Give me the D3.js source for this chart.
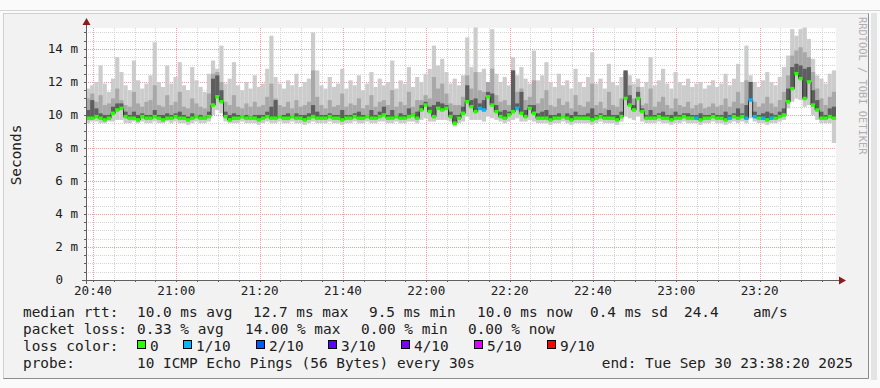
<!DOCTYPE html>
<html>
<head>
<meta charset="utf-8">
<script src="https://cdn.jsdelivr.net/npm/d3@7"></script>
<style>
  body { margin: 0; background: #fff; }
  text { font-family: "DejaVu Sans Mono", monospace; }
</style>
</head>
<body>
<div id="chart"></div>
<script>
// ---------------------------------------------------------
// DATA (one value per minute, 20:38:20 -> 23:38:20, ms)
// ---------------------------------------------------------

var medianRtt = [
  9.8, 9.8, 9.9, 9.8, 9.7, 9.8, 10.1, 10.3, 10.4, 9.9,
  9.8, 9.8, 9.7, 9.9, 9.8, 9.8, 9.9, 9.8, 9.7, 9.8,
  9.8, 9.9, 9.8, 9.8, 9.7, 9.8, 9.9, 9.8, 9.8, 9.9,
  10.6, 11.1, 10.8, 9.9, 9.7, 9.8, 9.8, 9.9, 9.8, 9.8,
  9.8, 9.7, 9.8, 9.9, 9.8, 9.8, 9.9, 9.8, 9.8, 9.9,
  9.8, 9.8, 9.7, 9.8, 9.9, 9.8, 9.8, 9.8, 9.9, 9.8,
  9.8, 9.7, 9.8, 9.8, 9.9, 9.8, 9.8, 9.9, 9.8, 9.8,
  9.9, 10.0, 9.8, 9.8, 9.9, 9.8, 9.8, 9.9, 10.0, 9.8,
  10.3, 10.6, 10.2, 9.9, 10.4, 10.3, 10.4, 9.9, 9.5, 9.8,
  10.1, 10.8, 10.5, 10.2, 10.4, 10.3, 11.1, 10.6, 10.2, 9.9,
  9.8, 10.0, 10.2, 10.4, 10.1, 9.9, 10.4, 10.1, 9.8, 9.8,
  9.8, 9.7, 9.8, 9.8, 9.9, 9.8, 9.7, 9.8, 9.8, 9.8,
  9.8, 9.7, 9.8, 9.9, 9.8, 9.8, 9.8, 9.7, 9.9, 11.0,
  10.6, 10.3, 11.0, 10.2, 9.8, 9.8, 9.8, 9.9, 9.8, 9.8,
  9.7, 9.8, 9.8, 9.9, 9.8, 9.8, 9.8, 9.7, 9.8, 9.8,
  9.9, 9.8, 9.8, 9.7, 9.8, 9.9, 9.8, 9.9, 9.8, 10.9,
  9.9, 9.8, 9.8, 9.7, 9.8, 9.8, 9.9, 10.0, 10.8, 11.6,
  12.5, 12.2, 11.0, 12.0, 10.6, 10.3, 9.8, 9.8, 9.9, 9.8
];

// highest ping of each round (light smoke)
var pingMax = [
  11.6, 11.8, 12.0, 13.0, 11.9, 11.4, 12.2, 13.5, 12.6, 11.8,
  11.5, 13.3, 12.1, 11.6, 11.9, 12.4, 14.4, 12.0, 11.7, 13.0,
  11.9, 12.3, 13.2, 11.8, 11.5, 12.9, 12.1, 11.7, 11.4, 12.5,
  13.3, 12.8, 14.2, 11.9, 12.2, 13.2, 11.8, 11.5, 12.0, 11.6,
  12.4, 11.7, 11.9, 12.8, 14.8, 12.3, 11.9, 11.6, 12.1, 11.8,
  12.5, 11.7, 12.0, 12.2, 15.0, 12.7, 11.8, 11.6, 12.3, 11.7,
  11.9, 12.8, 11.6, 12.1, 11.8, 12.4, 11.5, 11.9, 12.6, 11.7,
  12.2, 11.8, 12.0, 13.3, 11.6, 12.1, 11.9, 12.9, 11.7, 12.3,
  12.0, 12.5, 12.8, 14.2, 13.0, 13.4, 12.6, 11.9, 12.2, 11.8,
  12.4, 14.7, 12.9, 15.3, 12.6, 12.8, 11.9, 15.2, 12.5, 12.0,
  12.3, 11.8, 13.5, 12.4, 12.9, 12.2, 11.9, 13.9, 12.1, 12.4,
  13.2, 12.0, 11.7, 12.5, 11.8, 12.1, 11.6, 12.8, 12.0, 11.7,
  12.3, 13.8, 11.9, 12.2, 11.6, 13.1, 12.0, 11.8, 12.3, 12.7,
  12.4, 11.9, 12.2, 11.7, 12.0, 13.5, 11.8, 12.1, 12.8, 11.9,
  11.6, 12.6, 12.0, 11.8, 12.2, 11.7, 11.9, 12.0, 11.6, 11.8,
  12.1, 11.7, 11.9, 12.5, 11.8, 12.2, 13.1, 12.0, 14.2, 12.4,
  12.0, 11.7, 12.1, 12.6, 12.0, 11.8, 12.3, 12.9, 13.6, 15.2,
  14.8, 15.2, 15.3, 14.6, 13.4, 12.4, 12.2, 11.9, 12.5, 12.7
];

// second highest ping (mid smoke)
var pingHigh = [
  11.0, 11.3, 10.8, 11.2, 10.6, 10.7, 11.0, 11.6, 10.9, 10.6,
  10.5, 11.4, 10.7, 10.5, 10.8, 10.9, 11.8, 10.6, 10.5, 11.2,
  10.6, 10.8, 11.4, 10.5, 10.4, 11.0, 10.7, 10.5, 10.4, 11.3,
  12.5, 12.6, 12.0, 10.8, 10.6, 11.2, 10.5, 10.4, 10.7, 10.5,
  10.8, 10.5, 10.6, 11.1, 11.9, 11.0, 10.6, 10.5, 10.8, 10.4,
  10.9, 10.5, 10.6, 10.8, 12.7, 11.1, 10.6, 10.4, 10.9, 10.5,
  10.6, 11.3, 10.5, 10.7, 10.6, 11.0, 10.4, 10.6, 11.2, 10.5,
  10.8, 10.9, 10.6, 11.5, 10.5, 10.8, 10.6, 11.4, 10.5, 10.9,
  10.9, 11.2, 11.0, 12.3, 11.6, 11.9, 11.3, 10.7, 10.6, 10.6,
  11.1, 12.4, 11.6, 12.6, 11.5, 11.4, 12.0, 12.8, 11.2, 10.8,
  10.9, 10.6, 12.7, 11.4, 11.6, 10.9, 11.1, 12.1, 10.7, 11.0,
  11.5, 10.6, 10.5, 11.0, 10.6, 10.8, 10.4, 11.2, 10.6, 10.5,
  10.8, 11.9, 10.6, 10.8, 10.4, 11.4, 10.6, 10.5, 11.0, 12.6,
  11.8, 11.0, 11.7, 10.6, 10.7, 11.6, 10.5, 10.8, 11.1, 10.6,
  10.4, 11.0, 10.6, 10.5, 10.8, 10.4, 10.6, 10.7, 10.4, 10.5,
  10.7, 10.5, 10.6, 11.0, 10.5, 10.8, 11.4, 10.7, 12.1, 12.0,
  10.8, 10.5, 10.7, 11.1, 10.7, 10.5, 10.9, 11.4, 12.4, 13.6,
  13.9, 14.1, 13.8, 13.5, 12.6, 11.6, 11.0, 10.6, 11.1, 11.4
];

// inner pings (dark smoke)
var pingCore = [
  10.3, 10.9, 10.4, 10.1, 10.0, 10.0, 10.5, 10.7, 10.7, 10.2,
  10.0, 10.2, 10.0, 10.1, 10.0, 10.0, 10.3, 10.0, 10.0, 10.1,
  10.0, 10.1, 10.2, 10.0, 9.9, 10.1, 10.0, 10.0, 9.9, 10.2,
  12.2, 12.4, 11.5, 10.2, 10.0, 10.1, 10.0, 10.0, 10.0, 9.9,
  10.0, 10.0, 10.0, 10.2, 10.5, 10.9, 10.0, 10.0, 10.1, 10.0,
  10.1, 10.0, 10.0, 10.1, 10.6, 10.2, 10.0, 10.0, 10.1, 10.0,
  10.0, 10.3, 10.0, 10.0, 10.1, 10.2, 10.0, 10.0, 10.3, 10.0,
  10.2, 10.5, 10.0, 10.3, 10.0, 10.1, 10.0, 10.4, 10.1, 10.2,
  10.6, 10.8, 10.5, 10.6, 10.8, 10.7, 10.6, 10.2, 10.0, 10.0,
  10.5, 11.8, 10.9, 11.0, 10.7, 10.9, 11.4, 11.3, 10.6, 10.2,
  10.3, 10.2, 12.7, 10.7, 11.4, 10.3, 10.6, 10.6, 10.1, 10.2,
  10.3, 10.0, 10.0, 10.1, 10.0, 10.1, 10.0, 10.2, 10.0, 10.0,
  10.1, 10.4, 10.0, 10.1, 10.0, 10.3, 10.0, 10.0, 10.2, 12.7,
  11.2, 10.6, 11.4, 10.4, 10.0, 10.3, 10.0, 10.1, 10.2, 10.0,
  10.0, 10.2, 10.0, 10.1, 10.1, 10.0, 10.0, 10.1, 10.0, 10.0,
  10.1, 10.0, 10.0, 10.2, 10.0, 10.1, 10.4, 10.1, 10.6, 12.0,
  10.2, 10.0, 10.1, 10.2, 10.1, 10.0, 10.2, 10.4, 11.6, 12.9,
  13.1, 13.0, 12.8, 12.9, 11.5, 10.9, 10.2, 10.0, 10.4, 10.5
];

// lowest ping of each round
var pingMin = [
  9.5, 9.6, 9.6, 9.5, 9.5, 9.6, 9.6, 9.7, 9.7, 9.5,
  9.5, 9.6, 9.5, 9.6, 9.5, 9.5, 9.6, 9.5, 9.5, 9.6,
  9.5, 9.6, 9.5, 9.5, 9.4, 9.5, 9.6, 9.5, 9.5, 9.6,
  10.0, 10.3, 10.1, 9.6, 9.5, 9.5, 9.5, 9.6, 9.5, 9.5,
  9.5, 9.4, 9.5, 9.6, 9.5, 9.5, 9.6, 9.5, 9.5, 9.6,
  9.5, 9.5, 9.4, 9.5, 9.6, 9.5, 9.5, 9.5, 9.6, 9.5,
  9.5, 9.4, 9.5, 9.5, 9.6, 9.5, 9.5, 9.6, 9.5, 9.5,
  9.6, 9.6, 9.5, 9.5, 9.6, 9.5, 9.5, 9.6, 9.6, 9.5,
  9.7, 9.8, 9.6, 9.6, 9.7, 9.7, 9.7, 9.6, 9.3, 9.5,
  9.6, 9.9, 9.7, 9.7, 9.7, 9.6, 9.9, 9.8, 9.7, 9.6,
  9.5, 9.6, 9.7, 9.8, 9.6, 9.6, 9.7, 9.6, 9.5, 9.5,
  9.5, 9.4, 9.5, 9.5, 9.6, 9.5, 9.4, 9.5, 9.5, 9.5,
  9.5, 9.4, 9.5, 9.6, 9.5, 9.5, 9.5, 9.4, 9.6, 9.9,
  9.8, 9.7, 9.9, 9.6, 9.5, 9.5, 9.5, 9.6, 9.5, 9.5,
  9.4, 9.5, 9.5, 9.6, 9.5, 9.5, 9.5, 9.4, 9.5, 9.5,
  9.6, 9.5, 9.5, 9.4, 9.5, 9.6, 9.5, 9.6, 9.5, 9.8,
  9.6, 9.5, 9.5, 9.4, 9.5, 9.5, 9.6, 9.7, 10.4, 10.8,
  11.0, 10.9, 10.5, 10.6, 10.0, 9.7, 9.5, 9.5, 9.5, 8.3
];

// lost pings out of 10
var lossCount = [
  0,0,0,0,0,0,0,0,0,0, 0,0,0,0,0,0,0,0,0,0,
  0,0,0,0,0,0,0,0,0,0, 0,0,0,0,0,0,0,0,0,0,
  0,0,0,0,0,0,0,0,0,0, 0,0,0,0,0,0,0,0,0,0,
  0,0,0,0,0,0,0,0,0,0, 0,0,0,0,0,0,0,0,0,0,
  0,0,0,0,0,0,0,0,0,0, 0,0,0,0,1,1,0,0,0,0,
  0,0,0,1,0,0,0,0,0,0, 0,0,0,0,0,0,0,0,0,0,
  0,0,0,0,0,0,0,0,0,0, 0,0,0,0,0,0,0,0,0,0,
  0,0,0,0,0,0,1,0,0,0, 0,0,0,0,1,0,0,0,1,1,
  1,0,1,0,1,0,0,0,0,0
];

var yTicks = [0, 2, 4, 6, 8, 10, 12, 14];

var lossLevels = [0, 1, 2, 3, 4, 5, 9];
var lossLabels = ["0", "1/10", "2/10", "3/10", "4/10", "5/10", "9/10"];
var lossColors = ["#26ff00", "#00b8ff", "#0059ff", "#5e00ff", "#7e00ff", "#dd00ff", "#ff0000"];

var rttStats = ["10.0 ms avg", "12.7 ms max", "9.5 ms min", "10.0 ms now", "0.4 ms sd", "24.4", "am/s"];
var lossStats = ["0.33 % avg", "14.00 % max", "0.00 % min", "0.00 % now"];
var probeText = "10 ICMP Echo Pings (56 Bytes) every 30s";
var endText = "end: Tue Sep 30 23:38:20 2025";

var startTime = new Date(2025, 8, 30, 20, 38, 20);
var endTime = new Date(2025, 8, 30, 23, 38, 20);

// ---------------------------------------------------------
// SET UP
// ---------------------------------------------------------

var svgWidth = 880, svgHeight = 388;
var plot = { left: 86, right: 836, top: 28, bottom: 280 };

var svg = d3.select("#chart").append("svg")
  .attr("width", svgWidth)
  .attr("height", svgHeight);

// page line + rrd frame
svg.append("rect").attr("x", 0).attr("y", 0).attr("width", svgWidth).attr("height", svgHeight).attr("fill", "#fafafa");
svg.append("line").attr("x1", 0).attr("x2", svgWidth).attr("y1", 10.5).attr("y2", 10.5).attr("stroke", "#d4d4d4");
svg.append("rect").attr("x", 3.5).attr("y", 13.5).attr("width", 865).attr("height", 365)
  .attr("fill", "#f2f2f2").attr("stroke", "#cfcfcf");
svg.append("path").attr("d", "M868.5,13.5V378.5H3.5").attr("fill", "none").attr("stroke", "#8c8c8c");
svg.append("rect").attr("x", 871).attr("y", 13).attr("width", 6).attr("height", 367).attr("fill", "#e4e4e4");

svg.append("rect")
  .attr("x", plot.left).attr("y", plot.top)
  .attr("width", plot.right - plot.left).attr("height", plot.bottom - plot.top)
  .attr("fill", "#ffffff");

var x = d3.scaleTime().domain([startTime, endTime]).range([plot.left, plot.right]);
var y = d3.scaleLinear().domain([0, 15.27]).range([plot.bottom, plot.top]);

var times = medianRtt.map((d, i) => d3.timeMinute.offset(startTime, i));
var stepW = d => x(d3.timeMinute.offset(d, 1)) - x(d);

// ---------------------------------------------------------
// GRID
// ---------------------------------------------------------

var grid = svg.append("g").attr("stroke-dasharray", "1,1").attr("stroke-width", 1);

var minorX = x.ticks(d3.timeMinute.every(5)).filter(t => t.getMinutes() % 20 !== 0);
var majorX = x.ticks(d3.timeMinute.every(20));
var minorY = d3.range(0.5, 15.3, 0.5).filter(v => v % 2 !== 0);
var majorY = yTicks.filter(v => v > 0);

grid.selectAll(".minx").data(minorX).enter().append("line")
  .attr("x1", d => Math.round(x(d)) + 0.5).attr("x2", d => Math.round(x(d)) + 0.5)
  .attr("y1", plot.top).attr("y2", plot.bottom).attr("stroke", "#d4d4d4");
grid.selectAll(".miny").data(minorY).enter().append("line")
  .attr("x1", plot.left).attr("x2", plot.right)
  .attr("y1", d => Math.round(y(d)) + 0.5).attr("y2", d => Math.round(y(d)) + 0.5).attr("stroke", "#d4d4d4");
grid.selectAll(".majx").data(majorX).enter().append("line")
  .attr("x1", d => Math.round(x(d)) + 0.5).attr("x2", d => Math.round(x(d)) + 0.5)
  .attr("y1", plot.top).attr("y2", plot.bottom).attr("stroke", "#f0a0a0");
grid.selectAll(".majy").data(majorY).enter().append("line")
  .attr("x1", plot.left).attr("x2", plot.right)
  .attr("y1", d => Math.round(y(d)) + 0.5).attr("y2", d => Math.round(y(d)) + 0.5).attr("stroke", "#f0a0a0");

// ---------------------------------------------------------
// SMOKE + MEDIAN
// ---------------------------------------------------------

function smokeLayer(lowArr, highArr, color) {
  svg.append("g").selectAll("rect")
    .data(times)
    .enter()
    .append("rect")
    .attr("x", d => x(d))
    .attr("width", d => stepW(d))
    .attr("y", (d, i) => y(highArr[i]))
    .attr("height", (d, i) => Math.max(0, y(lowArr[i]) - y(highArr[i])))
    .attr("fill", color);
}

smokeLayer(pingMin, pingMax, "#cccccc");
smokeLayer(medianRtt, pingHigh, "#a8a8a8");
smokeLayer(medianRtt, pingCore, "#5e5e5e");

// thin dark median trace
svg.append("path")
  .datum(medianRtt.concat([medianRtt[medianRtt.length - 1]]))
  .attr("d", d3.line()
    .x((d, i) => x(d3.timeMinute.offset(startTime, i)))
    .y(d => y(d))
    .curve(d3.curveStepAfter))
  .attr("fill", "none")
  .attr("stroke", "#303030")
  .attr("stroke-width", 1);

function lossColor(n) {
  var c = lossColors[0];
  lossLevels.forEach((lv, k) => { if (n >= lv) c = lossColors[k]; });
  return c;
}

svg.append("g").selectAll("rect")
  .data(times)
  .enter()
  .append("rect")
  .attr("x", d => x(d))
  .attr("width", d => stepW(d))
  .attr("y", (d, i) => y(medianRtt[i]) - 1.75)
  .attr("height", 3.5)
  .attr("fill", (d, i) => lossColor(lossCount[i]));

// ---------------------------------------------------------
// AXES
// ---------------------------------------------------------

var axisColor = "#606060";
var arrowColor = "#8b1c1c";

// small ticks on the axes
svg.append("g").selectAll("line").data(minorX.concat(majorX)).enter().append("line")
  .attr("x1", d => Math.round(x(d)) + 0.5).attr("x2", d => Math.round(x(d)) + 0.5)
  .attr("y1", plot.bottom).attr("y2", plot.bottom + 2).attr("stroke", axisColor);
svg.append("g").selectAll("line").data(minorY.concat(majorY)).enter().append("line")
  .attr("x1", plot.left - 2).attr("x2", plot.left)
  .attr("y1", d => Math.round(y(d)) + 0.5).attr("y2", d => Math.round(y(d)) + 0.5).attr("stroke", axisColor);

svg.append("line").attr("x1", plot.left - 4).attr("x2", plot.right + 4)
  .attr("y1", plot.bottom + 0.5).attr("y2", plot.bottom + 0.5).attr("stroke", axisColor);
svg.append("line").attr("x1", plot.left + 0.5).attr("x2", plot.left + 0.5)
  .attr("y1", plot.bottom + 4).attr("y2", plot.top - 4).attr("stroke", axisColor);
svg.append("path").attr("d", `M${plot.left + 0.5},${plot.top - 10}l-4,7h8z`).attr("fill", arrowColor);
svg.append("path").attr("d", `M${plot.right + 10},${plot.bottom + 0.5}l-7,-4v8z`).attr("fill", arrowColor);

// y labels
svg.append("g").selectAll("text").data(yTicks).enter().append("text")
  .attr("x", d => d === 0 ? 63 : 78)
  .attr("y", d => y(d))
  .attr("dy", "0.35em")
  .attr("text-anchor", "end")
  .attr("font-size", "12.6px")
  .attr("fill", "#202020")
  .text(d => d === 0 ? "0" : d + " m");

// x labels
svg.append("g").selectAll("text").data(majorX).enter().append("text")
  .attr("x", d => x(d))
  .attr("y", 295)
  .attr("text-anchor", "middle")
  .attr("font-size", "12.6px")
  .attr("fill", "#202020")
  .text(d3.timeFormat("%H:%M"));

// axis title
svg.append("text")
  .attr("transform", "translate(21,155) rotate(-90)")
  .attr("text-anchor", "middle")
  .attr("font-size", "14.4px")
  .attr("fill", "#202020")
  .text("Seconds");

// watermark
svg.append("text")
  .attr("transform", "translate(858.5,17) rotate(90)")
  .attr("font-size", "10.4px")
  .attr("fill", "#b0b0b0")
  .text("RRDTOOL / TOBI OETIKER");

// ---------------------------------------------------------
// LEGEND
// ---------------------------------------------------------

var legend = svg.append("g").attr("font-size", "14.4px").attr("fill", "#202020");
var rowY = [317, 334, 351, 368];

legend.append("text").attr("x", 23).attr("y", rowY[0]).text("median rtt:");
var rttX = [137, 253, 369, 477, 590, 684, 753];
rttStats.forEach((s, i) => legend.append("text").attr("x", rttX[i]).attr("y", rowY[0]).text(s));

legend.append("text").attr("x", 23).attr("y", rowY[1]).text("packet loss:");
var lossX = [137, 245, 361, 468];
lossStats.forEach((s, i) => legend.append("text").attr("x", lossX[i]).attr("y", rowY[1]).text(s));

legend.append("text").attr("x", 23).attr("y", rowY[2]).text("loss color:");
var boxX = [137, 183, 256, 328, 401, 474, 547];
lossLabels.forEach((s, i) => {
  legend.append("rect").attr("x", boxX[i] + 0.5).attr("y", 340.5).attr("width", 8).attr("height", 8)
    .attr("fill", lossColors[i]).attr("stroke", "#000");
  legend.append("text").attr("x", boxX[i] + 13).attr("y", rowY[2]).text(s);
});

legend.append("text").attr("x", 23).attr("y", rowY[3]).text("probe:");
legend.append("text").attr("x", 137).attr("y", rowY[3]).text(probeText);
legend.append("text").attr("x", 853).attr("y", rowY[3]).attr("text-anchor", "end").text(endText);
</script>
</body>
</html>
